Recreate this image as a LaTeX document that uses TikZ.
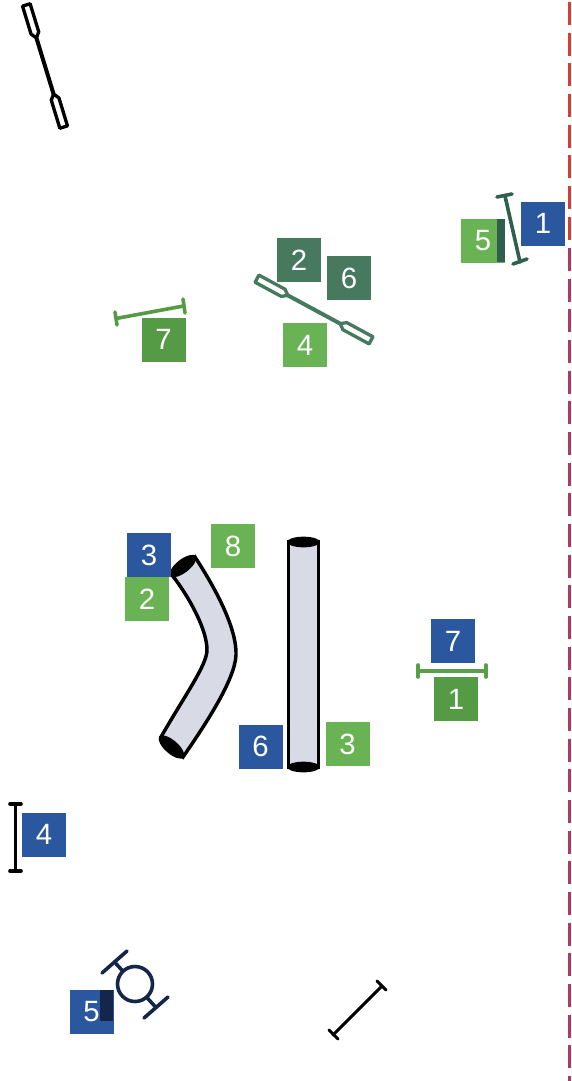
\documentclass[tikz,border=0pt]{standalone}
\usepackage{fontspec}
\setmainfont{Liberation Sans}
\usetikzlibrary{shapes.geometric}
\definecolor{cueblue}{HTML}{2B579F}
\definecolor{cuelight}{HTML}{69B354}
\definecolor{cuemid}{HTML}{559A45}
\definecolor{cueteal}{HTML}{47795F}
\definecolor{stripteal}{HTML}{305F4F}
\definecolor{cuenavy}{HTML}{14264A}
\definecolor{tubefill}{HTML}{D8DBE5}
\definecolor{limitred}{HTML}{DC3A32}
\definecolor{limitdark}{HTML}{B23A58}
\tikzset{
  cue/.style={rectangle, minimum size=33pt, inner sep=0pt, text=white,
              font=\fontsize{22}{22}\selectfont},
  bar/.style={line width=2.7pt, line cap=round},
  tube/.style={draw=black, line width=2.6pt, fill=tubefill},
  tubeend/.style={ellipse, fill=black, inner sep=0pt},
  paddle/.pic={
    \draw[pic actions, line width=2.5pt, line join=round, fill=white]
      (-48,-3) -- (-48,3) -- (-26,3) -- (-22,0) -- (-26,-3) -- cycle;
    \draw[pic actions, line width=2.5pt, line join=round, fill=white]
      (48,-3) -- (48,3) -- (26,3) -- (22,0) -- (26,-3) -- cycle;
    \draw[pic actions, line width=3pt] (-22,0) -- (22,0);
  }
}
\begin{document}
\begin{tikzpicture}[x=0.75pt, y=-0.75pt]
  \useasboundingbox (0,0) rectangle (571,1081);

  % boundary
  \draw[limitred, line width=2.4pt, dash pattern=on 17.2pt off 5.8pt] (569.5,2) -- (569.5,240);
  \draw[limitdark, line width=2.6pt, dash pattern=on 17.2pt off 5.8pt] (569.3,248) -- (569.3,1081);

  % tubes
  \draw[tube] (288.5,542) rectangle (318.5,767);
  \node[tubeend, minimum width=24.5pt, minimum height=8pt] (topend) at (303.5,542) {};
  \node[tubeend, minimum width=24.5pt, minimum height=8pt] (lowend) at (303.5,767) {};
  \draw[tube] (172,575) .. controls (190,598) and (207,630) .. (207,650)
    .. controls (207,665) and (185,695) .. (161,737)
    -- (183,757) .. controls (205,725) and (235,680) .. (236,655)
    .. controls (237,625) and (210,580) .. (195,557) -- cycle;
  \node[tubeend, minimum width=24pt, minimum height=10pt, rotate=38] (bendtop) at (183,566) {};
  \node[tubeend, minimum width=24pt, minimum height=10pt, rotate=-41] (bendlow) at (171.5,747) {};

  % paddles
  \pic[draw=black, rotate=-73, scale=1.33] at (45,66) {paddle};
  \pic[draw=cueteal, rotate=-28.4, scale=1.35] at (314,309.5) {paddle};

  % bars
  \draw[bar, stripteal] (505,196) -- (520,262);
  \draw[bar, stripteal] (497,197) -- (512,194);
  \draw[bar, stripteal] (513,264) -- (527,259);
  \draw[bar, cuemid] (116,318.5) -- (183.5,306);
  \draw[bar, cuemid] (115,312) -- (117,325);
  \draw[bar, cuemid] (183,299) -- (185,313);
  \draw[bar, cuemid!80!cuelight] (418,671) -- (486,671);
  \draw[bar, cuemid!80!cuelight] (418,665) -- (418,677);
  \draw[bar, cuemid!80!cuelight] (486,665) -- (486,677);
  \draw[bar, black] (15.5,804) -- (15.5,871);
  \draw[bar, black] (10,804) -- (21,804);
  \draw[bar, black] (10,871) -- (21,871);
  \draw[bar, black, line width=2.3pt] (333,1035) -- (382,986);
  \draw[bar, black, line width=2.3pt] (329,1030) -- (338,1039);
  \draw[bar, black, line width=2.3pt] (377,981) -- (386,990);

  % wheel
  \draw[bar, cuenavy] (102,973) -- (127,951);
  \draw[bar, cuenavy] (144,1018) -- (168,997);
  \draw[bar, cuenavy] (114.5,962) -- (156,1007.5);
  \draw[cuenavy, line width=2.7pt, fill=white] (135,984) circle (17.5);

  % cues
  \node[cue, fill=cueblue] (b1) at (543,223.5) {1};
  \node[cue, fill=cuelight] (l5) at (483,240.5) {5};
  \fill[stripteal] (497,219) rectangle (505,262);
  \node[cue, fill=cueteal] (t2) at (299,260) {2};
  \node[cue, fill=cueteal] (t6) at (349,278) {6};
  \node[cue, fill=cuelight] (l4) at (305,345) {4};
  \node[cue, fill=cuemid] (m7) at (163.5,339.5) {7};
  \node[cue, fill=cueblue] (b3) at (149,555) {3};
  \node[cue, fill=cuelight] (l2) at (147,599) {2};
  \node[cue, fill=cuelight] (l8) at (233,546) {8};
  \node[cue, fill=cueblue] (b6) at (260.5,746.5) {6};
  \node[cue, fill=cuelight] (l3) at (347.5,744) {3};
  \node[cue, fill=cueblue] (b7) at (453,641) {7};
  \node[cue, fill=cuemid] (m1) at (456,699) {1};
  \node[cue, fill=cueblue] (b4) at (44,834.5) {4};
  \node[cue, fill=cueblue] (b5) at (91.5,1011.5) {5};
  \fill[cuenavy] (100,990) rectangle (113,1021);
\end{tikzpicture}
\end{document}
